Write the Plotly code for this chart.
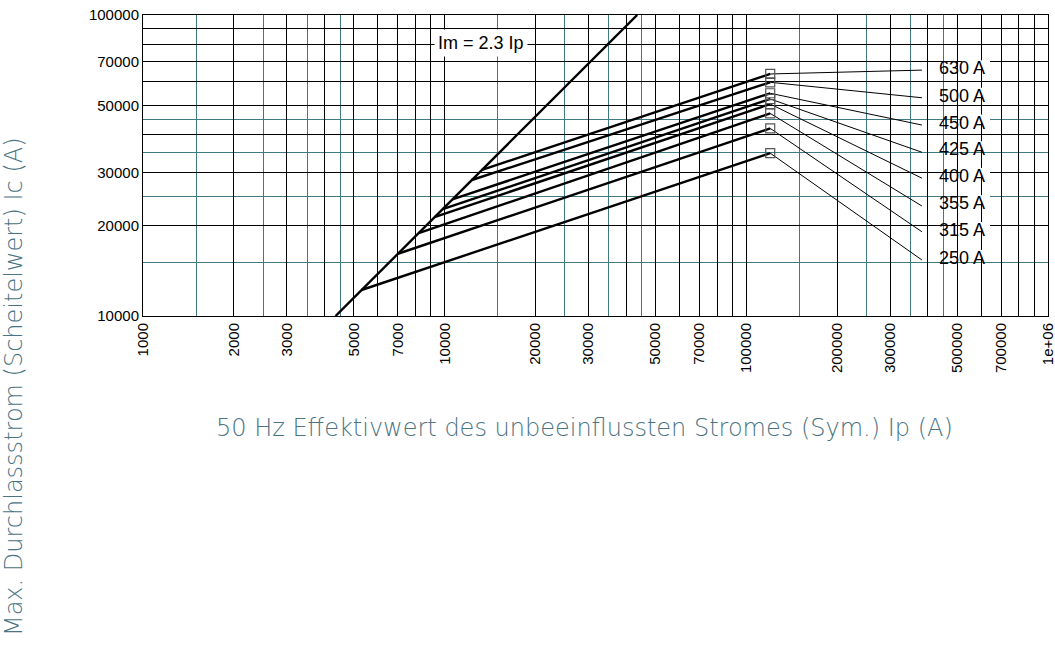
import math
import plotly.graph_objects as go

# ---- data ----
ratings = ["630 A", "500 A", "450 A", "425 A", "400 A", "355 A", "315 A", "250 A"]
start_ip = [13300, 12300, 10600, 9850, 9250, 8200, 7000, 5300]
start_ic = [30600, 28300, 24400, 22650, 21300, 18850, 16100, 12200]
end_ip = [120000] * 8
end_ic = [63700, 59760, 54950, 52600, 50600, 47100, 42000, 34750]
leader_ip = [382000] * 8
leader_ic = [65600, 53100, 43100, 35000, 28700, 23200, 19050, 15350]
label_ip = [519000] * 8
label_ic = [66500, 53900, 43900, 35800, 29200, 23700, 19300, 15600]

im_ip = [4348, 43478]
im_ic = [10000, 100000]
im_label = "Im = 2.3 Ip"
im_label_ip = 13240
im_label_ic = 80600

x_major = [m * 10 ** e for e in (3, 4, 5) for m in range(1, 10)] + [1000000]
x_labels = {1: True, 2: True, 3: True, 5: True, 7: True}
x_text = []
for v in x_major:
    m = int(round(v / 10 ** int(math.floor(math.log10(v)))))
    if v == 1000000:
        x_text.append("1e+06")
    elif m in x_labels:
        x_text.append(str(v))
    else:
        x_text.append("")
x_minor = [m * 10 ** e for e in (3, 4, 5) for m in (1.5, 2.5, 3.5, 4.5)]

y_major = [m * 10000 for m in range(1, 11)]
y_text = [str(v) if v in (10000, 20000, 30000, 50000, 70000, 100000) else "" for v in y_major]
y_minor = [15000, 25000, 35000, 45000]

x_title = "50 Hz Effektivwert des unbeeinflussten Stromes (Sym.) Ip (A)"
y_title = "Max. Durchlassstrom (Scheitelwert) Ic (A)"

TEAL = "#3f7a82"
TITLE_C = "#4a7383"
TITLE_FONT = dict(family="DejaVu Sans", size=24, color=TITLE_C, weight=300)

fig = go.Figure()

# Im = 2.3 Ip line
fig.add_trace(go.Scatter(x=im_ip, y=im_ic, mode="lines",
                         line=dict(color="black", width=2.4), hoverinfo="skip"))

# cut-off curves
for i in range(len(ratings)):
    fig.add_trace(go.Scatter(x=[start_ip[i], end_ip[i]], y=[start_ic[i], end_ic[i]],
                             mode="lines", line=dict(color="black", width=2.4),
                             name=ratings[i]))
    fig.add_trace(go.Scatter(x=[end_ip[i], leader_ip[i]], y=[end_ic[i], leader_ic[i]],
                             mode="lines", line=dict(color="black", width=1),
                             hoverinfo="skip"))

fig.add_trace(go.Scatter(x=end_ip, y=end_ic, mode="markers",
                         marker=dict(symbol="square-open", size=9,
                                     color="#555555", line=dict(width=1.2)),
                         hoverinfo="skip"))

shapes = []
annotations = []
for i in range(len(ratings)):
    shapes.append(dict(type="rect", layer="between", xref="x", yref="y",
                       xsizemode="pixel", ysizemode="pixel",
                       xanchor=label_ip[i], yanchor=label_ic[i],
                       x0=-30, x1=28, y0=-7, y1=8,
                       fillcolor="white", line=dict(width=0)))
    annotations.append(dict(x=math.log10(label_ip[i]), y=math.log10(label_ic[i]),
                            xref="x", yref="y", text=ratings[i], showarrow=False,
                            font=dict(family="Liberation Sans, Arial", size=18, color="black")))

annotations.append(dict(x=math.log10(im_label_ip), y=math.log10(im_label_ic),
                        xref="x", yref="y", text=im_label, showarrow=False,
                        bgcolor="white", borderpad=3,
                        font=dict(family="Liberation Sans, Arial", size=18, color="black")))

annotations.append(dict(x=0.488, y=-0.372, xref="paper", yref="paper", text=x_title,
                        xanchor="center", yanchor="middle",
                        showarrow=False, font=TITLE_FONT))
annotations.append(dict(x=-0.1425, y=-0.236, xref="paper", yref="paper", text=y_title,
                        xanchor="center", yanchor="middle",
                        showarrow=False, textangle=-90, font=TITLE_FONT))

fig.update_layout(
    width=1055, height=649,
    margin=dict(l=143, r=7, t=15, b=333),
    paper_bgcolor="white", plot_bgcolor="white",
    showlegend=False,
    shapes=shapes, annotations=annotations,
    xaxis=dict(type="log", range=[2.99999, 6.00001], tickmode="array", tickvals=x_major,
               ticktext=x_text, automargin=False, ticklabeloverflow="allow",
               tickangle=-90, ticks="", showgrid=True, gridcolor="black", gridwidth=1,
               showline=True, linecolor="black", linewidth=1, mirror=True, zeroline=False,
               tickfont=dict(family="Liberation Sans, Arial", size=15, color="black"),
               minor=dict(tickmode="array", tickvals=x_minor, showgrid=True,
                          gridcolor=TEAL, gridwidth=1, ticks="")),
    yaxis=dict(type="log", range=[3.99999, 5.00001], tickmode="array", tickvals=y_major,
               ticktext=y_text, automargin=False, ticklabeloverflow="allow",
               ticks="", showgrid=True, gridcolor="black", gridwidth=1,
               showline=True, linecolor="black", linewidth=1, mirror=True, zeroline=False,
               tickfont=dict(family="Liberation Sans, Arial", size=15, color="black"),
               minor=dict(tickmode="array", tickvals=y_minor, showgrid=True,
                          gridcolor=TEAL, gridwidth=1, ticks="")),
)

fig.write_html("out.html", config={"displayModeBar": False},
               post_script="document.body.style.margin='0';document.body.style.overflow='hidden';")
